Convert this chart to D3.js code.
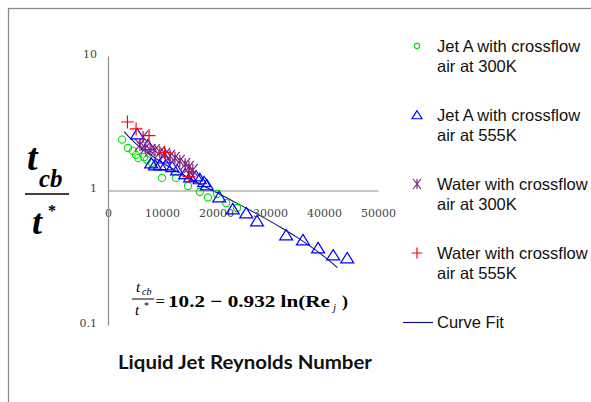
<!DOCTYPE html>
<html><head><meta charset="utf-8">
<script src="https://cdn.jsdelivr.net/npm/d3@7"></script>
<style>body{margin:0;background:#fff}svg{display:block}</style>
</head><body>
<svg id="c" width="591" height="402"></svg>
<script>
// ---- data ----
const xTicks = [0, 10000, 20000, 30000, 40000, 50000];
const yTicks = [0.1, 1, 10];
const greenX = [2600, 3700, 4600, 5200, 5600, 6700, 7200, 8100, 10000, 12600, 14800, 17000, 18500, 20200, 21900, 23900];
const greenY = [2.39, 2.07, 1.97, 1.84, 1.74, 1.77, 1.69, 1.60, 1.24, 1.24, 1.08, 0.975, 0.887, 0.942, 0.807, 0.741];
const blueX = [5400, 7400, 8000, 8700, 9600, 10400, 10700, 11900, 12800, 14300, 15200, 16300, 17000, 17800, 18300, 20600, 23100, 25600, 27600, 33000, 36100, 38900, 41700, 44300];
const blueY = [2.63, 2.18, 1.60, 1.55, 1.55, 1.74, 1.55, 1.50, 1.42, 1.33, 1.26, 1.28, 1.22, 1.16, 1.10, 0.895, 0.729, 0.681, 0.593, 0.467, 0.429, 0.374, 0.331, 0.315];
const purpleX = [6500, 5900, 6900, 7800, 8700, 9600, 10600, 11500, 12400, 13300, 14300, 15000, 15700];
const purpleY = [2.50, 2.18, 2.07, 2.00, 2.00, 1.93, 1.87, 1.81, 1.75, 1.66, 1.57, 1.50, 1.42];
const redX = [3600, 5200, 7600, 10500, 15000];
const redY = [3.23, 2.87, 2.56, 1.92, 1.27];
const fitX = [3000, 4000, 5000, 7500, 10000, 12500, 15000, 17500, 20000, 22500, 25000, 27500, 30000, 32500, 35000, 37500, 40000, 42500];
const fitY = [2.738, 2.470, 2.262, 1.884, 1.616, 1.408, 1.238, 1.094, 0.970, 0.860, 0.762, 0.673, 0.592, 0.517, 0.448, 0.384, 0.324, 0.267];
const legendLines = [["Jet A with crossflow", "air at 300K"], ["Jet A with crossflow", "air at 555K"], ["Water with crossflow", "air at 300K"], ["Water with crossflow", "air at 555K"], ["Curve Fit"]];
const xTitle = "Liquid Jet Reynolds Number";

const svg = d3.select("#c");
// outer frame
svg.append("rect").attr("x", 8.5).attr("y", 8.5).attr("width", 700).attr("height", 500)
  .attr("fill", "none").attr("stroke", "#8a8a8a").attr("stroke-width", 1.3);

const x = d3.scaleLinear().domain([0, 50000]).range([108, 378]);
const y = d3.scaleLog().domain([0.1, 10]).range([325, 56]);

// axes
const gx = svg.append("g").attr("transform", `translate(0,${y(1)})`)
  .call(d3.axisBottom(x).tickValues(xTicks).tickSize(0).tickSizeOuter(0).tickPadding(19).tickFormat(d3.format("d")));
const gy = svg.append("g").attr("transform", `translate(${x(0)},0)`)
  .call(d3.axisLeft(y).tickValues(yTicks).tickSize(0).tickSizeOuter(0).tickPadding(11).tickFormat(d => d3.format("~g")(d)));
[gx, gy].forEach(g => {
  g.select(".domain").attr("stroke", "#8c8c8c").attr("stroke-width", 1.2);
  g.selectAll("text").attr("font-family", "'DejaVu Serif', serif").attr("font-size", 11).attr("fill", "#444");
});
gy.selectAll("text").attr("dy", "0.12em");

// fit curve
svg.append("path").datum(fitX.map((v, i) => [v, fitY[i]]))
  .attr("fill", "none").attr("stroke", "#141480").attr("stroke-width", 1.1)
  .attr("d", d3.line().x(d => x(d[0])).y(d => y(d[1])).curve(d3.curveMonotoneX));

const zip = (a, b) => a.map((v, i) => [v, b[i]]);
// markers
function circle(g, s) { g.append("circle").attr("r", s).attr("fill", "none").attr("stroke", "#00e000").attr("stroke-width", 1.1); }
function tri(g, s) { g.append("path").attr("d", `M0,${-s*0.85}L${s},${s*0.75}L${-s},${s*0.75}Z`).attr("fill", "none").attr("stroke", "#0000ff").attr("stroke-width", 1.2); }
function star(g, s) { g.append("path").attr("d", `M${-s*0.8},${-s}L${s*0.8},${s}M${s*0.8},${-s}L${-s*0.8},${s}M0,${-s}V${s}`).attr("fill", "none").attr("stroke", "#80207f").attr("stroke-width", 1.2); }
function plus(g, s) { g.append("path").attr("d", `M${-s},0H${s}M0,${-s}V${s}`).attr("fill", "none").attr("stroke", "#ff0000").attr("stroke-width", 1.2); }

const series = [
  [zip(greenX, greenY), circle, 3.6, 2.6],
  [zip(blueX, blueY), tri, 6.5, 5],
  [zip(purpleX, purpleY), star, 6, 5],
  [zip(redX, redY), plus, 6.5, 5.5]
];
series.forEach(([pts, fn, s]) => {
  svg.append("g").selectAll("g").data(pts).join("g")
    .attr("transform", d => `translate(${x(d[0])},${y(d[1])})`)
    .each(function () { fn(d3.select(this), s); });
});

// legend
const legY = [51.5, 120.5, 189.5, 258.5];
series.forEach(([pts, fn, s, ls], i) => {
  const g = svg.append("g").attr("transform", `translate(417,${legY[i] - 5.5})`);
  fn(g, ls);
});
legendLines.forEach((lines, i) => {
  const by = i < 4 ? legY[i] : 328;
  const t = svg.append("text").attr("x", 437).attr("y", by)
    .attr("font-family", "'Liberation Sans', Arial, sans-serif").attr("font-size", 16.5).attr("fill", "#111");
  lines.forEach((l, j) => t.append("tspan").attr("x", 437).attr("dy", j ? 20.5 : 0).text(l));
});
svg.append("line").attr("x1", 403).attr("x2", 433).attr("y1", 322.5).attr("y2", 322.5)
  .attr("stroke", "#141480").attr("stroke-width", 1.2);

// y-axis label: t_cb / t*
const yl = svg.append("g").attr("font-family", "'Liberation Serif', 'Times New Roman', serif").attr("font-weight", "bold").attr("font-style", "italic").attr("fill", "#000");
yl.append("text").attr("x", 27).attr("y", 170).attr("font-size", 38).text("t");
yl.append("text").attr("x", 39).attr("y", 187).attr("font-size", 25).text("cb");
yl.append("line").attr("x1", 25).attr("x2", 69).attr("y1", 194).attr("y2", 194).attr("stroke", "#000").attr("stroke-width", 1.6);
yl.append("text").attr("x", 32).attr("y", 234).attr("font-size", 36).text("t");
yl.append("text").attr("x", 48).attr("y", 216).attr("font-size", 16).attr("font-style", "normal").text("*");

// formula
const fm = svg.append("g").attr("font-family", "'Liberation Serif', 'Times New Roman', serif").attr("fill", "#000");
fm.append("text").attr("x", 136).attr("y", 292).attr("font-size", 15).attr("font-style", "italic").text("t");
fm.append("text").attr("x", 142).attr("y", 295).attr("font-size", 10).attr("font-style", "italic").text("cb");
fm.append("line").attr("x1", 132).attr("x2", 154).attr("y1", 299).attr("y2", 299).attr("stroke", "#000").attr("stroke-width", 1);
fm.append("text").attr("x", 135).attr("y", 315).attr("font-size", 15).attr("font-style", "italic").text("t");
fm.append("text").attr("x", 144).attr("y", 309).attr("font-size", 10).text("*");
fm.append("text").attr("x", 155.5).attr("y", 307).attr("font-size", 17).attr("textLength", 9.5).attr("lengthAdjust", "spacingAndGlyphs").text("=");
fm.append("text").attr("x", 168).attr("y", 306.5).attr("font-size", 17).attr("font-weight", "bold")
  .attr("textLength", 162).attr("lengthAdjust", "spacingAndGlyphs").text("10.2 \u2212 0.932 ln(Re");
fm.append("text").attr("x", 333).attr("y", 311).attr("font-size", 11).attr("font-style", "italic").text("j");
fm.append("text").attr("x", 342).attr("y", 306.5).attr("font-size", 17).attr("font-weight", "bold")
  .attr("textLength", 6).attr("lengthAdjust", "spacingAndGlyphs").text(")");

// x title
svg.append("text").attr("x", 245).attr("y", 369).attr("text-anchor", "middle")
  .attr("font-family", "Lato, 'Open Sans', sans-serif").attr("font-weight", "bold").attr("font-size", 19).attr("fill", "#111")
  .attr("textLength", 254).attr("lengthAdjust", "spacingAndGlyphs")
  .text(xTitle);
</script>
</body></html>
